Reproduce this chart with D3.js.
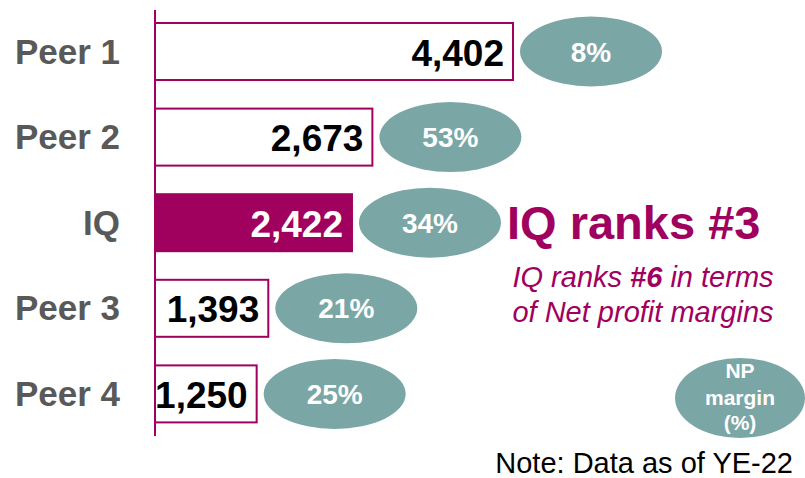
<!DOCTYPE html>
<html><head><meta charset="utf-8">
<script src="https://cdn.jsdelivr.net/npm/d3@7/dist/d3.min.js"></script>
<style>
html,body{margin:0;padding:0;background:#fff;}
svg{display:block;font-family:"Liberation Sans",Arial,sans-serif;}
</style></head>
<body>
<svg id="chart" width="805" height="478"></svg>
<script>
const categories = ["Peer 1", "Peer 2", "IQ", "Peer 3", "Peer 4"];
const revenues = [4402, 2673, 2422, 1393, 1250];
const npMargins = ["8%", "53%", "34%", "21%", "25%"];
const highlight = "IQ";

const purple = "#A0005E";
const teal = "#7BA6A6";
const gray = "#595959";

const svg = d3.select("#chart");

const x = d3.scaleLinear().domain([0, d3.max(revenues)]).range([155, 513]);
const y = d3.scaleBand().domain(categories).range([23, 422.4]).paddingInner(0.334).paddingOuter(0);

const data = categories.map((c, i) => ({cat: c, v: revenues[i], m: npMargins[i]}));

// axis line
svg.append("line")
  .attr("x1", x(0)).attr("x2", x(0))
  .attr("y1", 10).attr("y2", 436)
  .attr("stroke", purple).attr("stroke-width", 2);

// bars
svg.selectAll("rect.bar").data(data).join("rect")
  .attr("class", "bar")
  .attr("x", x(0))
  .attr("y", d => y(d.cat))
  .attr("width", d => x(d.v) - x(0))
  .attr("height", y.bandwidth())
  .attr("fill", d => d.cat === highlight ? purple : "#fff")
  .attr("stroke", purple)
  .attr("stroke-width", 2);

// category labels
svg.selectAll("text.cat").data(data).join("text")
  .attr("class", "cat")
  .attr("x", 120)
  .attr("y", d => y(d.cat) + y.bandwidth() / 2 + 12)
  .attr("text-anchor", "end")
  .attr("font-size", 35)
  .attr("font-weight", "bold")
  .attr("fill", gray)
  .text(d => d.cat);

// value labels
svg.selectAll("text.val").data(data).join("text")
  .attr("class", "val")
  .attr("x", d => x(d.v) - 9)
  .attr("y", d => y(d.cat) + y.bandwidth() / 2 + 14)
  .attr("text-anchor", "end")
  .attr("font-size", 37)
  .attr("font-weight", "bold")
  .attr("fill", d => d.cat === highlight ? "#fff" : "#000")
  .text(d => d3.format(",")(d.v));

// margin ellipses
svg.selectAll("ellipse.m").data(data).join("ellipse")
  .attr("class", "m")
  .attr("cx", d => x(d.v) + 78)
  .attr("cy", d => y(d.cat) + y.bandwidth() / 2)
  .attr("rx", 71).attr("ry", 35)
  .attr("fill", teal);

svg.selectAll("text.m").data(data).join("text")
  .attr("class", "m")
  .attr("x", d => x(d.v) + 78)
  .attr("y", d => y(d.cat) + y.bandwidth() / 2 + 10)
  .attr("text-anchor", "middle")
  .attr("font-size", 28)
  .attr("font-weight", "bold")
  .attr("fill", "#fff")
  .text(d => d.m);

// headline
svg.append("text")
  .attr("x", 507).attr("y", 239)
  .attr("font-size", 47).attr("font-weight", "bold")
  .attr("fill", purple)
  .text("IQ ranks #3");

const sub = svg.append("text")
  .attr("text-anchor", "middle")
  .attr("font-size", 29).attr("font-style", "italic")
  .attr("fill", purple);
const l1 = sub.append("tspan").attr("x", 643).attr("y", 287);
l1.append("tspan").text("IQ ranks ");
l1.append("tspan").attr("font-weight", "bold").text("#6");
l1.append("tspan").text(" in terms");
sub.append("tspan").attr("x", 643).attr("y", 322).text("of Net profit margins");

// legend ellipse
svg.append("ellipse")
  .attr("cx", 740).attr("cy", 398).attr("rx", 65).attr("ry", 40)
  .attr("fill", teal);
const leg = svg.append("text")
  .attr("text-anchor", "middle")
  .attr("font-size", 21).attr("font-weight", "bold")
  .attr("fill", "#fff");
[["NP", 378], ["margin", 405], ["(%)", 430]].forEach(([t, yy]) => {
  leg.append("tspan").attr("x", 740).attr("y", yy).text(t);
});

// note
svg.append("text")
  .attr("x", 793).attr("y", 473)
  .attr("text-anchor", "end")
  .attr("font-size", 29)
  .attr("fill", "#000")
  .text("Note: Data as of YE-22");
</script>
</body></html>
